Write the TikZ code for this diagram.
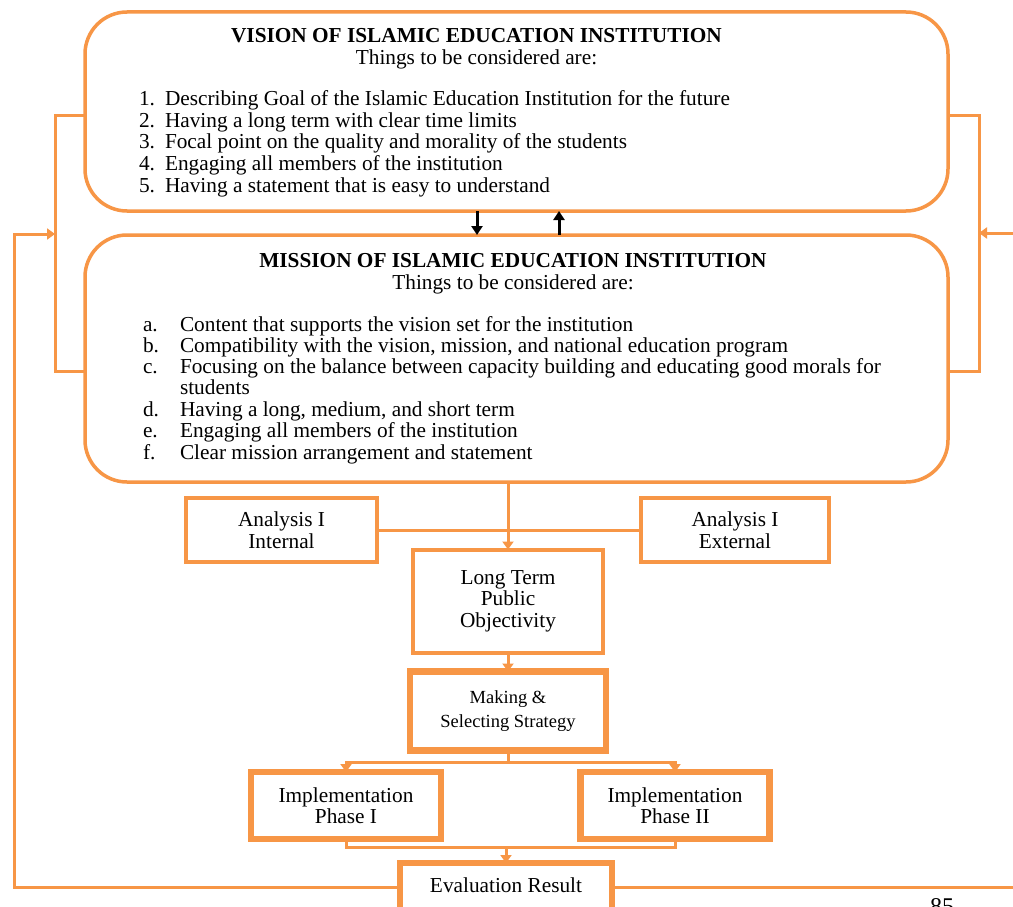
\documentclass[tikz,border=0pt]{standalone}
\usepackage{fontspec}
\setmainfont{Liberation Serif}
\usetikzlibrary{arrows.meta}
\definecolor{orng}{RGB}{247,150,70}
\begin{document}
\begin{tikzpicture}[x=1pt,y=-1pt,
  every node/.style={inner sep=0pt, outer sep=0pt},
  bigbox/.style={draw=orng, line width=3.5pt, rounded corners=42pt, fill=white},
  box/.style={draw=orng, line width=4pt, align=center, font=\fontsize{21.3}{21.5}\selectfont},
  thickbox/.style={draw=orng, line width=6.5pt, align=center, font=\fontsize{21.3}{21.5}\selectfont},
  conn/.style={draw=orng, line width=3pt},
  arr/.style={conn, -{Triangle[width=11pt,length=8pt]}},
  blk/.style={draw=black, line width=3pt, -{Triangle[width=11pt,length=9pt]}},
  txt/.style={font=\fontsize{21.3}{21.5}\selectfont, anchor=base west},
  ttl/.style={font=\fontsize{21.3}{21.5}\selectfont\bfseries, anchor=base},
  sub/.style={font=\fontsize{21.3}{21.5}\selectfont, anchor=base},
  ]
\useasboundingbox (0,0) rectangle (1013,907);
\fill[white] (0,0) rectangle (1013,907);

% big boxes
\node[bigbox, minimum width=863pt, minimum height=199pt] (vision) at (516.5,111.5) {};
\node[bigbox, minimum width=863pt, minimum height=247pt] (mission) at (516.5,358.5) {};

% vision text
\node[ttl] (vt) at (476.5,42.5) {VISION OF ISLAMIC EDUCATION INSTITUTION};
\node[sub] (vs) at (476.5,65) {Things to be considered are:};
\foreach \n/\t/\y in {1/Describing Goal of the Islamic Education Institution for the future/106,
  2/Having a long term with clear time limits/127.5,
  3/Focal point on the quality and morality of the students/149,
  4/Engaging all members of the institution/170.5,
  5/Having a statement that is easy to understand/192}{
  \node[txt] (vn\n) at (139,\y) {\n.};
  \node[txt] (vi\n) at (165,\y) {\t};
}

% mission text
\node[ttl] (mt) at (513,267) {MISSION OF ISLAMIC EDUCATION INSTITUTION};
\node[sub] (msub) at (513,289) {Things to be considered are:};
\foreach \n/\t/\y in {a/Content that supports the vision set for the institution/331,
  b/{Compatibility with the vision, mission, and national education program}/352,
  c/Focusing on the balance between capacity building and educating good morals for/373,
  d/{Having a long, medium, and short term}/416,
  e/Engaging all members of the institution/437.5,
  f/Clear mission arrangement and statement/459}{
  \node[txt] (mn\n) at (143,\y) {\n.};
  \node[txt] (mi\n) at (180,\y) {\t};
}
\node[txt] (mic2) at (180,394.5) {students};

% black arrows between vision and mission
\draw[blk] ([xshift=-39.5pt]vision.south) -- ([xshift=-39.5pt]mission.north);
\draw[blk] ([xshift=42.5pt]mission.north) -- ([xshift=42.5pt]vision.south);

% brackets
\draw[conn] ([yshift=-4.5pt]vision.west) -- ++(-30,0) |- ([yshift=-12.5pt]mission.west);
\draw[conn] ([yshift=-4.5pt]vision.east) -- ++(31,0) |- ([yshift=-12.5pt]mission.east);

% lower boxes
\node[box, minimum width=191pt, minimum height=64pt] (ai) at (281.5,530) {Analysis I\\Internal};
\node[box, minimum width=188pt, minimum height=64pt] (ae) at (735,530) {Analysis I\\External};
\node[box, minimum width=190pt, minimum height=103pt] (lt) at (508,601) {Long Term\\Public\\Objectivity};
\node[thickbox, minimum width=196pt, minimum height=79pt, font=\fontsize{18.5}{24}\selectfont] (ms) at (508,711) {Making \&\\Selecting Strategy};
\node[thickbox, minimum width=190pt, minimum height=67pt] (p1) at (346,805.5) {Implementation\\Phase I};
\node[thickbox, minimum width=189pt, minimum height=67pt] (p2) at (675,805.5) {Implementation\\Phase II};
\node[thickbox, minimum width=212pt, minimum height=48pt, fill=white] (ev) at (506,887) {};
\node[sub] (evt) at (506,892) {Evaluation Result};

% connectors
\draw[conn] (ai.east) -- (ae.west);
\draw[arr] (lt.north |- mission.south) -- (lt.north);
\draw[arr] (lt.south) -- (ms.north);
\coordinate (s1) at (508,762);
\draw[conn] (ms.south) -- (s1);
\draw[arr] (s1) -| (p1.north);
\draw[arr] (s1) -| (p2.north);
\coordinate (s2) at (506,847);
\draw[conn] (p1.south) |- (s2) -| (p2.south);
\draw[arr] (s2) -- (ev.north);

% feedback lines
\coordinate (fl) at (14,234);
\coordinate (lbend) at (55,234);
\draw[arr] (ev.west) -| (fl) -- (lbend);
\coordinate (rbot) at (1020,887);
\draw[conn] (ev.east) -- (rbot);
\coordinate (rtop) at (1020,233);
\coordinate (rbend) at (979,233);
\draw[arr] (rtop) -- (rbend);

% page number
\node[font=\fontsize{24}{24}\selectfont, anchor=base] (pg) at (942,914) {85};
\end{tikzpicture}
\end{document}
